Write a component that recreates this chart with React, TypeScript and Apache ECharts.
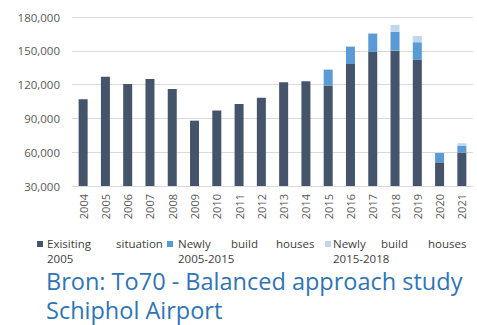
import React, { useEffect, useRef } from "react";
import * as echarts from "echarts";

const years = ["2004","2005","2006","2007","2008","2009","2010","2011","2012","2013","2014","2015","2016","2017","2018","2019","2020","2021"];
const existing = [107000,127000,120500,125000,116000,88000,97000,102800,108400,122000,123000,119100,138300,149000,150100,141900,51000,59600];
const newly0515 = [0,0,0,0,0,0,0,0,0,0,0,14200,15400,16300,16700,15700,8300,5900];
const newly1518 = [0,0,0,0,0,0,0,0,0,0,0,0,0,0,6200,5600,0,2400];
const seriesNames = ["Exisiting situation 2005", "Newly build houses 2005-2015", "Newly build houses 2015-2018"];
const colors = ["#44546a", "#5b9bd5", "#bdd7ee"];
const yTicks = { min: 30000, max: 180000, interval: 30000 };
const titleLines = ["Bron: To70 - Balanced approach study", "Schiphol Airport"];

const FONT = "'Open Sans', 'Noto Sans', sans-serif";

export default function App() {
  const ref = useRef<HTMLDivElement>(null);
  useEffect(() => {
    const chart = echarts.init(ref.current!, null, { renderer: "svg" });
    const legendWords: any[] = [];
    const legendItems = [
      { mx: 37, words: [["Exisiting", 47], ["situation", 116]], second: ["2005", 47] },
      { mx: 167, words: [["Newly", 178], ["build", 231], ["houses", 276]], second: ["2005-2015", 178] },
      { mx: 325, words: [["Newly", 333], ["build", 381], ["houses", 428]], second: ["2015-2018", 333] },
    ];
    legendItems.forEach((it, i) => {
      legendWords.push({ type: "rect", shape: { x: it.mx, y: 241, width: 6, height: 6 }, style: { fill: colors[i] } });
      it.words.forEach(([w, x]) => {
        legendWords.push({ type: "text", x: x as number, y: 243, style: { text: w as string, font: `11.5px ${FONT}`, fill: "#404040", verticalAlign: "middle" } });
      });
      legendWords.push({ type: "text", x: it.second[1] as number, y: 258, style: { text: it.second[0] as string, font: `11.5px ${FONT}`, fill: "#404040", verticalAlign: "middle" } });
    });
    const titleEls = titleLines.map((t, i) => ({
      type: "text", x: 46, y: 281.3 + i * 29,
      style: { text: t, font: `23.5px ${FONT}`, fill: "#2f75b5", verticalAlign: "middle" },
    }));
    chart.setOption({
      animation: false,
      grid: { left: 72, right: 4, top: 17, bottom: 139 },
      legend: { show: false },
      xAxis: {
        type: "category",
        data: years,
        axisLine: { lineStyle: { color: "#d9d9d9" } },
        axisTick: { show: false },
        axisLabel: { rotate: 90, color: "#595959", fontSize: 11, fontFamily: FONT, margin: 8 },
      },
      yAxis: {
        type: "value",
        min: yTicks.min, max: yTicks.max, interval: yTicks.interval,
        axisLine: { show: false },
        axisTick: { show: false },
        splitLine: { lineStyle: { color: "#d9d9d9" } },
        axisLabel: {
          color: "#595959", fontSize: 11.5, fontFamily: FONT, margin: 12,
          formatter: (v: number) => v.toLocaleString("en-US"),
        },
      },
      series: [existing, newly0515, newly1518].map((d, i) => ({
        name: seriesNames[i],
        type: "bar",
        stack: "total",
        data: d,
        barWidth: 9,
        itemStyle: { color: colors[i] },
      })),
      graphic: [...legendWords, ...titleEls],
    });
    return () => chart.dispose();
  }, []);
  return <div ref={ref} style={{ width: 477, height: 325, position: "absolute", left: 0, top: 0 }} />;
}
